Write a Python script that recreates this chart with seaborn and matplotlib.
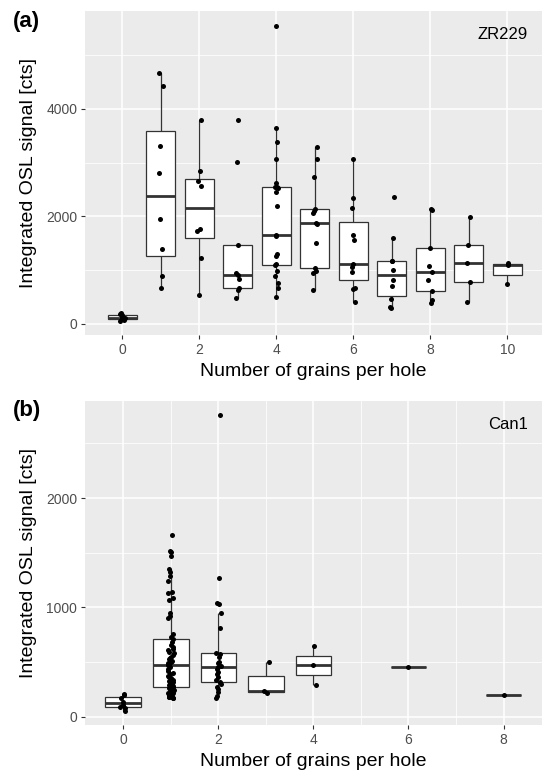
import numpy as np
import pandas as pd
import matplotlib
matplotlib.use("Agg")
import matplotlib.pyplot as plt
from matplotlib.ticker import NullLocator, FixedLocator
import seaborn as sns

plt.rcParams['font.family'] = ['Liberation Sans', 'DejaVu Sans']

# ---------------- data ----------------
# Panel (a): ZR229, integrated OSL signal per number of grains per hole
zr_grains = [0, 1, 2, 3, 4, 5, 6, 7, 8, 9, 10]
zr_g0 = [55, 70, 85, 95, 105, 125, 165, 185, 200]
zr_g1 = [658, 888, 1391, 1950, 2801, 3317, 4428, 4677]
zr_g2 = [534, 1230, 1727, 1758, 2565, 2658, 2845, 3789]
zr_g3 = [474, 628, 658, 831, 905, 935, 1465, 3009, 3803]
zr_g4 = [503, 671, 751, 888, 988, 1087, 1112, 1261, 1298, 1635, 1645,
         2186, 2459, 2520, 2540, 2550, 2614, 3074, 3385, 3639, 5552]
zr_g5 = [634, 938, 987, 1031, 1509, 1863, 1875, 2056, 2099, 2136, 2732, 3068, 3285]
zr_g6 = [410, 646, 658, 956, 1062, 1112, 1559, 1646, 2149, 2335, 3068]
zr_g7 = [286, 317, 454, 702, 808, 1006, 1162, 1162, 1603, 2355]
zr_g8 = [391, 441, 615, 820, 963, 1075, 1410, 2120, 2140]
zr_g9 = [410, 771, 1137, 1460, 1993]
zr_g10 = [734, 1094, 1125]
zr_values = [zr_g0, zr_g1, zr_g2, zr_g3, zr_g4, zr_g5, zr_g6, zr_g7, zr_g8, zr_g9, zr_g10]

# Panel (b): Can1
can_grains = [0, 1, 2, 3, 4, 6, 8]
can_g0 = [55, 75, 90, 110, 135, 170, 195, 210]
can_g1 = [168, 172, 176, 180, 184, 188, 192, 197, 202, 207, 213, 220, 227, 235, 244, 254, 264,
          274,
          280, 288, 296, 305, 313, 322, 331, 340, 351, 362, 375, 388, 403, 420, 438, 456,
          472,
          480, 488, 497, 505, 516, 527, 538, 550, 562, 578, 591, 606, 622, 641, 660, 682,
          707,
          732, 760, 905, 921, 945, 1067, 1088, 1128, 1143, 1241, 1289, 1326, 1350,
          1472, 1503, 1518, 1661]
can_g2 = [168, 189, 229, 250, 274, 300, 317, 335, 366, 390, 411, 440, 451, 463, 488,
          503, 549, 573, 585, 808, 945, 1027, 1040, 1265, 2759]
can_g3 = [214, 238, 503]
can_g4 = [290, 469, 646]
can_g6 = [454]
can_g8 = [195]
can_values = [can_g0, can_g1, can_g2, can_g3, can_g4, can_g6, can_g8]

panel_labels = ["(a)", "(b)"]
sample_names = ["ZR229", "Can1"]
x_title = "Number of grains per hole"
y_title = "Integrated OSL signal [cts]"


def to_frame(grains, values):
    rows = [(g, v) for g, vs in zip(grains, values) for v in vs]
    return pd.DataFrame(rows, columns=["grains", "signal"])


df_a = to_frame(zr_grains, zr_values)
df_b = to_frame(can_grains, can_values)

# ---------------- figure ----------------
W, H = 542, 771
fig = plt.figure(figsize=(W / 100, H / 100), dpi=100)


def px_axes(left, top, right, bottom):
    return fig.add_axes([left / W, 1 - bottom / H, (right - left) / W, (bottom - top) / H])


ax_a = px_axes(85, 11, 542, 335)
ax_b = px_axes(85, 400.7, 542, 725)

np.random.seed(7)

for ax, df in [(ax_a, df_a), (ax_b, df_b)]:
    sns.boxplot(data=df, x="grains", y="signal", native_scale=True, width=0.75,
                color="white", linecolor="#333333", linewidth=0.9, showfliers=False,
                showcaps=False, whis=1.5, medianprops=dict(linewidth=2.0),
                ax=ax, zorder=2)
    sns.stripplot(data=df, x="grains", y="signal", native_scale=True, jitter=0.06,
                  color="black", size=3.6, linewidth=0, ax=ax, zorder=3)

# axis limits / ticks
ax_a.set_xlim(-0.969, 10.90)
ax_a.set_ylim(-211, 5826)
ax_a.xaxis.set_major_locator(FixedLocator([0, 2, 4, 6, 8, 10]))
ax_a.xaxis.set_minor_locator(NullLocator())
ax_a.yaxis.set_major_locator(FixedLocator([0, 2000, 4000]))
ax_a.yaxis.set_minor_locator(FixedLocator([1000, 3000, 5000]))

ax_b.set_xlim(-0.806, 8.81)
ax_b.set_ylim(-76, 2890)
ax_b.xaxis.set_major_locator(FixedLocator([0, 2, 4, 6, 8]))
ax_b.xaxis.set_minor_locator(FixedLocator([1, 3, 5, 7]))
ax_b.yaxis.set_major_locator(FixedLocator([0, 1000, 2000]))
ax_b.yaxis.set_minor_locator(FixedLocator([500, 1500, 2500]))

for ax, plab, name in zip([ax_a, ax_b], panel_labels, sample_names):
    ax.set_facecolor("#EBEBEB")
    ax.set_axisbelow(True)
    ax.grid(True, which="major", color="white", linewidth=1.1)
    ax.grid(True, which="minor", color="white", linewidth=0.55)
    for s in ax.spines.values():
        s.set_visible(False)
    ax.tick_params(which="major", length=3, width=0.8, color="#333333",
                   labelcolor="#4D4D4D", labelsize=10, pad=2.5)
    ax.tick_params(which="minor", length=0)
    ax.set_xlabel(x_title, fontsize=14, color="black")
    ax.set_ylabel(y_title, fontsize=14, color="black")
    ax.xaxis.set_label_coords(0.5, -0.086)
    ax.yaxis.set_label_coords(-0.105, 0.5)
    ax.text(0.9687, 0.926, name, transform=ax.transAxes, ha="right", va="center",
            fontsize=12, color="black")

fig.text(13 / W, 1 - 11 / H, panel_labels[0], fontsize=16, fontweight="bold",
         ha="left", va="top")
fig.text(13 / W, 1 - 400 / H, panel_labels[1], fontsize=16, fontweight="bold",
         ha="left", va="top")

fig.savefig("out.png", dpi=100)
